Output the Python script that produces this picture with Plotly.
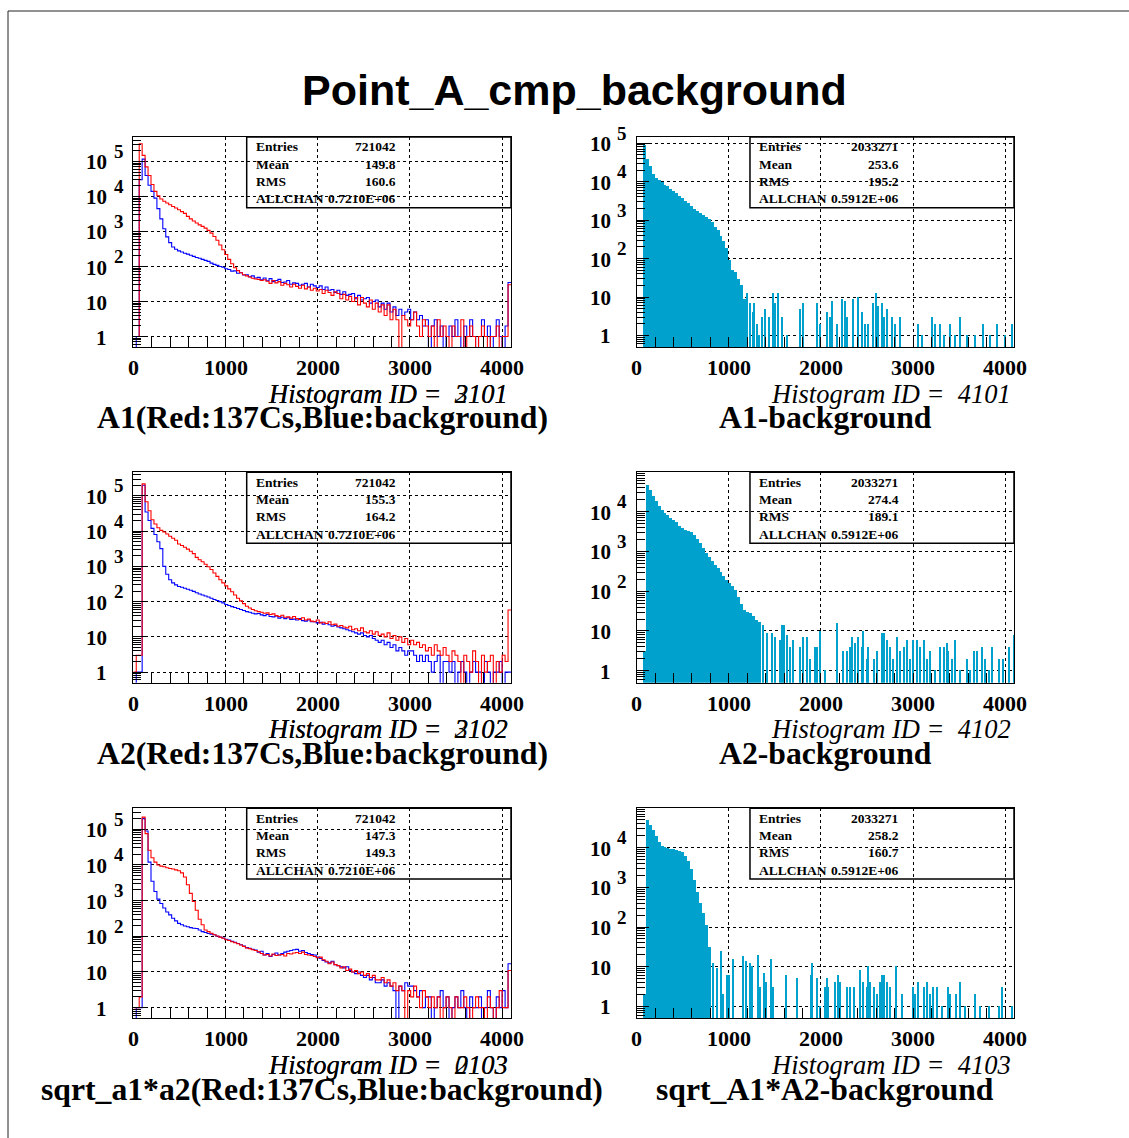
import plotly.graph_objects as go

W, H = 1129, 1138
BIN_WIDTH = 32
X_MAX = 4096
FLOOR = 0.05  # display value for empty bins on log axis

# ---------------- data (counts per 32-channel bin, channels 0..4095) ----------------
A1_RED = [1, 1, 320000, 150000, 70000, 40000, 22000, 14000, 10500, 8500,
          7300, 6500, 5800, 5200, 4700, 4200, 3700, 3300, 2700, 2300,
          2000, 1750, 1550, 1400, 1250, 1080, 900, 720, 560, 410,
          300, 220, 160, 120, 92, 76, 66, 58, 54, 50,
          46, 44, 43, 40, 42, 38, 33, 40, 34, 37,
          29, 33, 30, 26, 31, 27, 24, 29, 23, 26,
          21, 24, 20, 22, 17, 21, 18, 15, 19, 17,
          12, 16, 11, 14, 10, 13, 8, 13, 9, 7,
          11, 6, 9, 5, 8, 4, 8, 3, 6, 3,
          0, 4, 3, 2, 3, 5, 2, 1, 3, 2,
          1, 2, 0, 3, 1, 2, 1, 0, 2, 1,
          1, 3, 0, 1, 2, 1, 0, 1, 2, 1,
          0, 1, 1, 2, 0, 1, 1, 30]
A1_BLUE = [0, 1, 30000, 117000, 40000, 21000, 14000, 9000, 4500, 2300,
           1200, 700, 480, 360, 310, 280, 260, 240, 225, 210,
           195, 180, 172, 160, 150, 140, 125, 115, 108, 100,
           95, 86, 82, 74, 75, 64, 66, 57, 58, 51,
           54, 47, 49, 42, 47, 39, 45, 37, 40, 43,
           35, 36, 40, 31, 34, 33, 29, 31, 33, 26,
           31, 28, 25, 28, 22, 26, 21, 22, 18, 21,
           16, 19, 15, 16, 17, 12, 15, 11, 12, 13,
           9, 10, 11, 7, 9, 6, 9, 5, 7, 4,
           6, 4, 5, 6, 3, 5, 3, 4, 2, 3,
           0, 2, 3, 1, 2, 0, 1, 2, 1, 3,
           1, 0, 2, 1, 3, 1, 0, 1, 3, 1,
           2, 0, 1, 3, 1, 0, 2, 35]
A2_RED = [1, 3, 3, 220000, 68000, 38000, 21000, 16000, 12500, 10500,
          9500, 8300, 7200, 6300, 5500, 4300, 3900, 3500, 3100, 2700,
          2300, 1800, 1550, 1350, 1150, 980, 820, 650, 520, 420,
          340, 280, 230, 190, 155, 125, 105, 88, 74, 66,
          60, 55, 52, 50, 47, 48, 43, 45, 40, 38,
          41, 36, 37, 34, 38, 33, 31, 35, 30, 32,
          28, 27, 30, 25, 26, 24, 27, 22, 23, 20,
          21, 19, 18, 20, 16, 17, 15, 18, 14, 13,
          15, 12, 14, 11, 12, 10, 13, 9, 11, 8,
          10, 7, 9, 6, 8, 6, 7, 5, 6, 4,
          5, 3, 6, 4, 3, 5, 3, 2, 4, 3,
          2, 0, 3, 2, 1, 4, 2, 0, 3, 1,
          2, 3, 0, 2, 1, 3, 2, 58]
A2_BLUE = [0, 1, 1, 200000, 35000, 20000, 12000, 8000, 5000, 3200,
           1000, 600, 420, 340, 300, 270, 255, 240, 225, 210,
           195, 178, 165, 155, 145, 135, 125, 115, 108, 100,
           92, 83, 78, 72, 68, 64, 60, 56, 52, 50,
           47, 45, 46, 42, 40, 43, 38, 37, 39, 34,
           36, 33, 35, 31, 32, 30, 33, 29, 28, 30,
           27, 27, 25, 26, 23, 24, 22, 20, 21, 19,
           18, 17, 16, 15, 14, 13, 12, 13, 11, 10,
           11, 9, 8, 7, 8, 6, 7, 5, 6, 4,
           5, 4, 3, 4, 4, 3, 2, 3, 2, 3,
           2, 1, 2, 3, 0, 2, 2, 1, 2, 0,
           1, 2, 1, 0, 1, 2, 1, 1, 0, 2,
           1, 0, 1, 1, 2, 0, 1, 1]
SQ_RED = [1, 1, 2, 220000, 76000, 26000, 16000, 12000, 10000, 9300,
          8900, 8400, 8000, 7700, 7300, 6900, 6000, 4600, 2800, 1600,
          950, 540, 300, 210, 150, 135, 122, 110, 102, 95,
          88, 80, 76, 70, 66, 62, 57, 52, 47, 45,
          42, 40, 37, 33, 30, 31, 28, 32, 29, 30,
          31, 28, 33, 32, 34, 35, 33, 36, 31, 30,
          29, 27, 25, 26, 22, 20, 17, 19, 16, 15,
          13, 14, 11, 12, 10, 11, 9, 10, 8, 9,
          7, 8, 6, 6, 7, 5, 6, 4, 5, 3,
          4, 3, 0, 3, 2, 4, 2, 1, 3, 2,
          1, 2, 1, 2, 0, 1, 2, 1, 0, 2,
          1, 1, 2, 1, 0, 1, 2, 1, 1, 0,
          2, 1, 0, 1, 3, 1, 1, 11]
SQ_BLUE = [0, 1, 1, 200000, 90000, 12000, 3500, 1800, 1100, 830,
           620, 480, 400, 320, 270, 230, 210, 195, 185, 175,
           168, 165, 150, 135, 128, 120, 115, 110, 100, 96,
           90, 82, 78, 72, 68, 63, 58, 53, 48, 46,
           43, 41, 36, 38, 30, 33, 27, 31, 34, 30,
           33, 36, 38, 40, 42, 43, 38, 40, 35, 33,
           31, 30, 26, 24, 21, 19, 18, 20, 16, 15,
           14, 13, 14, 11, 10, 9, 10, 8, 7, 8,
           6, 7, 5, 5, 6, 4, 5, 4, 3, 0,
           4, 3, 5, 4, 4, 3, 2, 3, 1, 2,
           2, 0, 1, 2, 3, 1, 2, 0, 1, 2,
           1, 3, 1, 0, 2, 1, 1, 2, 0, 1,
           3, 1, 0, 2, 1, 3, 1, 17]

# background-subtracted spectra: dense body (32-ch bins from BG_BODY_START) + sparse tail
BG_BODY_START = 64
A1_BG_BODY = [90000, 38000, 26000, 16000, 12500, 11000, 9500, 8300, 7500, 6600,
              5800, 5100, 4300, 3700, 3200, 2700, 2300, 2000, 1700, 1500,
              1350, 1200, 1050, 900, 680, 540, 380, 280, 190, 90,
              50, 45, 30, 20, 9]
A1_BG_TAIL_CH = [1201, 1230, 1259, 1277, 1302, 1328, 1360, 1393, 1436, 1483,
                 1501, 1538, 1574, 1628, 1773, 1809, 1954, 1990, 2063, 2099,
                 2117, 2171, 2226, 2262, 2280, 2352, 2406, 2443, 2479, 2515,
                 2569, 2595, 2624, 2660, 2685, 2714, 2768, 2805, 2859, 3058,
                 3094, 3203, 3239, 3293, 3330, 3402, 3456, 3510, 3583, 3673,
                 3764, 3836, 3909, 3999, 4071]
A1_BG_TAIL_N = [13, 7, 4, 7, 2, 1, 3, 5, 3, 13,
                7, 13, 3, 1, 5, 7, 7, 2, 4, 3,
                8, 2, 9, 8, 3, 9, 10, 4, 2, 2,
                7, 13, 6, 7, 3, 5, 3, 2, 3, 2,
                1, 3, 2, 2, 1, 2, 1, 3, 1, 1,
                2, 1, 2, 1, 2]
A2_BG_BODY = [3, 46000, 35000, 24000, 18000, 14000, 11000, 9200, 8000, 7000,
              6000, 5300, 4300, 3800, 3500, 3300, 3000, 2500, 2000, 1600,
              1200, 900, 700, 560, 450, 370, 300, 240, 190, 160,
              130, 105, 70, 48, 33, 30, 28, 24, 19, 17]
A2_BG_TAIL_CH = [1375, 1411, 1466, 1502, 1556, 1582, 1600, 1629, 1665, 1701,
                 1773, 1809, 1846, 1882, 1936, 1954, 1991, 2045, 2172, 2244,
                 2280, 2316, 2335, 2371, 2407, 2443, 2461, 2497, 2515, 2570,
                 2606, 2660, 2686, 2715, 2751, 2787, 2823, 2859, 2896, 2932,
                 2968, 3004, 3040, 3077, 3113, 3149, 3185, 3239, 3294, 3330,
                 3366, 3384, 3421, 3457, 3511, 3583, 3620, 3656, 3692, 3746,
                 3783, 3819, 3855, 3927, 3981, 4036, 4090]
A2_BG_TAIL_N = [14, 9, 9, 7, 6, 14, 14, 8, 4, 6,
                4, 7, 7, 2, 4, 4, 10, 1, 16, 3,
                3, 4, 7, 5, 7, 4, 10, 2, 4, 2,
                3, 9, 9, 6, 4, 2, 7, 3, 4, 6,
                2, 6, 6, 4, 6, 2, 3, 1, 4, 4,
                5, 3, 2, 6, 1, 2, 1, 3, 3, 4,
                2, 1, 4, 2, 2, 4, 8]
SQ_BG_BODY = [2, 50000, 36000, 27000, 19000, 13500, 11000, 10200, 9600, 9200,
              8900, 8600, 8100, 7500, 6200, 4600, 2800, 1500, 750, 400,
              220, 110, 30]
SQ_BG_TAIL_CH = [825, 876, 912, 941, 984, 1002, 1049, 1158, 1183, 1230,
                 1249, 1314, 1339, 1386, 1404, 1458, 1484, 1621, 1737, 1889,
                 1900, 1954, 1991, 2045, 2063, 2081, 2153, 2190, 2208, 2280,
                 2316, 2353, 2425, 2461, 2497, 2515, 2534, 2570, 2606, 2642,
                 2660, 2686, 2715, 2751, 2816, 2878, 3004, 3022, 3058, 3113,
                 3149, 3185, 3221, 3257, 3312, 3384, 3402, 3468, 3504, 3565,
                 3674, 3728, 3819, 3927, 3963, 4072]
SQ_BG_TAIL_N = [12, 9, 24, 2, 6, 6, 15, 18, 14, 12,
                10, 19, 3, 7, 4, 15, 3, 6, 5, 6,
                12, 5, 1, 3, 5, 3, 4, 6, 4, 3,
                3, 3, 8, 4, 3, 10, 4, 3, 2, 4,
                6, 6, 4, 3, 10, 2, 3, 2, 4, 3,
                4, 2, 3, 3, 1, 3, 2, 2, 4, 1,
                2, 1, 1, 1, 3, 1]

X_TICKS = [0, 1000, 2000, 3000, 4000]
STAT_NAMES = ["Entries", "Mean", "RMS", "ALLCHAN"]
STATS_A1 = ["721042", "149.8", "160.6", "0.7210E+06"]
STATS_A2 = ["721042", "155.3", "164.2", "0.7210E+06"]
STATS_SQ = ["721042", "147.3", "149.3", "0.7210E+06"]
STATS_A1_BG = ["2033271", "253.6", "195.2", "0.5912E+06"]
STATS_A2_BG = ["2033271", "274.4", "189.1", "0.5912E+06"]
STATS_SQ_BG = ["2033271", "258.2", "160.7", "0.5912E+06"]
TITLE = "Point_A_cmp_background"

PANELS = [
    dict(row=1, col=1, kind="cmp", red=A1_RED, blue=A1_BLUE, stats=STATS_A1,
         ids=["2101", "3101"], sub="A1(Red:137Cs,Blue:background)", ymax=5.70, top=5),
    dict(row=1, col=2, kind="bg", body=A1_BG_BODY, tch=A1_BG_TAIL_CH, tn=A1_BG_TAIL_N,
         stats=STATS_A1_BG, ids=["4101"], sub="A1-background", ymax=5.16, top=5),
    dict(row=2, col=1, kind="cmp", red=A2_RED, blue=A2_BLUE, stats=STATS_A2,
         ids=["2102", "3102"], sub="A2(Red:137Cs,Blue:background)", ymax=5.67, top=5),
    dict(row=2, col=2, kind="bg", body=A2_BG_BODY, tch=A2_BG_TAIL_CH, tn=A2_BG_TAIL_N,
         stats=STATS_A2_BG, ids=["4102"], sub="A2-background", ymax=4.99, top=4),
    dict(row=3, col=1, kind="cmp", red=SQ_RED, blue=SQ_BLUE, stats=STATS_SQ,
         ids=["2103", "0103"], sub="sqrt_a1*a2(Red:137Cs,Blue:background)", ymax=5.59, top=5),
    dict(row=3, col=2, kind="bg", body=SQ_BG_BODY, tch=SQ_BG_TAIL_CH, tn=SQ_BG_TAIL_N,
         stats=STATS_SQ_BG, ids=["4103"], sub="sqrt_A1*A2-background", ymax=4.99, top=4),
]

# ---------------- layout geometry (pixels) ----------------
XDOM_PX = {1: (133.3, 511.0), 2: (636.7, 1014.0)}
YDOM_PX = {1: (137.0, 347.0), 2: (472.3, 682.7), 3: (808.3, 1018.3)}
YMIN_LOG = -0.30

SERIF = "Liberation Serif, Times New Roman, serif"
SANS = "Liberation Sans, Arial, Helvetica, sans-serif"
RED = "#ff0000"
BLUE = "#0000ff"
FILL = "rgb(0,161,204)"

fig = go.Figure()
annotations = []
shapes = []
layout = {}


def sfx(k):
    return "" if k == 1 else str(k)


def step_xy(vals):
    xs = [i * BIN_WIDTH for i in range(len(vals))] + [len(vals) * BIN_WIDTH]
    ys = [v if v > 0 else FLOOR for v in vals]
    ys = ys + [ys[-1]]
    return xs, ys


for k, p in enumerate(PANELS, start=1):
    s = sfx(k)
    xa, ya = "x" + s, "y" + s
    x0p, x1p = XDOM_PX[p["col"]]
    y0p, y1p = YDOM_PX[p["row"]]

    if p["kind"] == "cmp":
        for vals, col in ((p["blue"], BLUE), (p["red"], RED)):
            xs, ys = step_xy(vals)
            fig.add_trace(go.Scatter(x=xs, y=ys, mode="lines", line=dict(color=col, width=1.1, shape="hv"),
                                     xaxis=xa, yaxis=ya, showlegend=False, hoverinfo="skip"))
    else:
        centers = [BG_BODY_START + BIN_WIDTH * (i + 0.5) for i in range(len(p["body"]))]
        fig.add_trace(go.Bar(x=centers, y=p["body"], width=BIN_WIDTH, marker=dict(color=FILL, line=dict(width=0)),
                             xaxis=xa, yaxis=ya, showlegend=False, hoverinfo="skip"))
        fig.add_trace(go.Bar(x=p["tch"], y=p["tn"], width=16, marker=dict(color=FILL, line=dict(width=0)),
                             xaxis=xa, yaxis=ya, showlegend=False, hoverinfo="skip"))

    common = dict(showline=True, mirror=True, linecolor="black", linewidth=1,
                  ticks="inside", tickcolor="black", tickwidth=1, showticklabels=False,
                  showgrid=True, gridcolor="black", griddash="dot", gridwidth=1,
                  zeroline=False, fixedrange=True)
    layout["xaxis" + s] = dict(common, domain=[x0p / W, x1p / W], range=[0, X_MAX], anchor=ya,
                               tick0=0, dtick=1000, ticklen=10,
                               minor=dict(ticks="inside", ticklen=10, dtick=200, tickcolor="black", showgrid=False))
    layout["yaxis" + s] = dict(common, domain=[1 - y1p / H, 1 - y0p / H], type="log",
                               range=[YMIN_LOG, p["ymax"]], anchor=xa, dtick=1, ticklen=12,
                               minor=dict(ticks="inside", ticklen=8, tickcolor="black", showgrid=False))

    # y tick labels
    lab_r = (x0p - 24.0) / W
    exp_l = (x0p - 21.5) / W
    for d in range(0, p["top"] + 1):
        main = "1" if d == 0 else "10"
        annotations.append(dict(x=lab_r, y=d, xref="paper", yref=ya, text=main, showarrow=False,
                                xanchor="right", yanchor="middle", yshift=-1,
                                font=dict(family=SERIF, size=21, color="black", weight="bold")))
        if d >= 2:
            annotations.append(dict(x=exp_l, y=d, xref="paper", yref=ya, text=str(d), showarrow=False,
                                    xanchor="left", yanchor="middle", yshift=10,
                                    font=dict(family=SERIF, size=19, color="black", weight="bold")))
    # x tick labels
    for t in X_TICKS:
        annotations.append(dict(x=t, y=-20.5 / 210.0, xref=xa, yref=ya + " domain", text=str(t), showarrow=False,
                                xanchor="center", yanchor="middle",
                                font=dict(family=SERIF, size=22, color="black", weight="bold")))
    # stats box
    shapes.append(dict(type="rect", xref=xa + " domain", yref=ya + " domain",
                       x0=113.4 / 377.7, x1=1.0, y0=1 - 70.7 / 210.0, y1=1.0,
                       line=dict(color="black", width=1.5), fillcolor="rgba(0,0,0,0)"))
    for r, (nm, val) in enumerate(zip(STAT_NAMES, p["stats"])):
        yy = 1 - (9.7 + 17.4 * r) / 210.0
        annotations.append(dict(x=120.4 / 377.7, y=yy, xref=xa + " domain", yref=ya + " domain", text=nm,
                                showarrow=False, xanchor="left", yanchor="middle",
                                font=dict(family=SERIF, size=13.5, color="black", weight="bold")))
        annotations.append(dict(x=264.7 / 377.7, y=yy, xref=xa + " domain", yref=ya + " domain", text=val,
                                showarrow=False, xanchor="right", yanchor="middle",
                                font=dict(family=SERIF, size=13.5, color="black", weight="bold")))
    # histogram id (two ids drawn at the same place, as in the original canvas)
    for hid in p["ids"]:
        annotations.append(dict(x=0.998, y=-0.222, xref=xa + " domain", yref=ya + " domain",
                                text="Histogram ID =\u00a0\u00a0" + hid, showarrow=False,
                                xanchor="right", yanchor="middle",
                                font=dict(family=SERIF, size=26.5, color="black", style="italic")))
    # panel title
    annotations.append(dict(x=0.5, y=-0.338, xref=xa + " domain", yref=ya + " domain", text=p["sub"],
                            showarrow=False, xanchor="center", yanchor="middle",
                            font=dict(family=SERIF, size=31.7, color="black", weight="bold")))

# main title
annotations.append(dict(x=574 / W, y=1 - 90 / H, xref="paper", yref="paper", text=TITLE, showarrow=False,
                        xanchor="center", yanchor="middle",
                        font=dict(family=SANS, size=43, color="black", weight="bold")))

# canvas frame lines
shapes.append(dict(type="line", xref="paper", yref="paper", x0=8 / W, x1=1, y0=1 - 11 / H, y1=1 - 11 / H,
                   line=dict(color="#222222", width=1)))
shapes.append(dict(type="line", xref="paper", yref="paper", x0=8 / W, x1=8 / W, y0=1 - 11 / H, y1=0,
                   line=dict(color="#222222", width=1)))

fig.update_layout(width=W, height=H, autosize=False, margin=dict(l=0, r=0, t=0, b=0),
                  paper_bgcolor="white", plot_bgcolor="white", barmode="overlay", bargap=0,
                  annotations=annotations, shapes=shapes, showlegend=False, **layout)

fig.write_html("out.html")
